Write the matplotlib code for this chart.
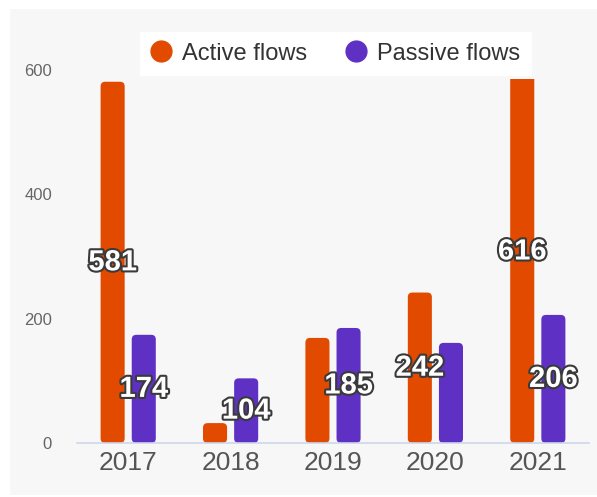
import matplotlib
matplotlib.use("Agg")
import matplotlib.pyplot as plt
import matplotlib.patheffects as pe
from matplotlib.patches import FancyBboxPatch, Rectangle
from matplotlib.lines import Line2D
import numpy as np

years = ['2017', '2018', '2019', '2020', '2021']
active = [581, 32, 169, 242, 616]
passive = [174, 104, 185, 161, 206]
show_active = [True, False, False, True, True]
show_passive = [True, True, True, False, True]

plt.rcParams['font.family'] = ['Liberation Sans', 'DejaVu Sans']

c_active = '#e24a00'
c_passive = '#5e31c4'

fig = plt.figure(figsize=(5.97, 4.97), dpi=100)
fig.patch.set_facecolor('white')
fig.add_artist(Rectangle((10 / 597, 2 / 497), 587 / 597, 486 / 497,
                         transform=fig.transFigure, facecolor='#f7f7f7',
                         edgecolor='none', zorder=-10))

ax = fig.add_axes([77 / 597, 54 / 497, 512 / 597, 411 / 497])
ax.set_facecolor('none')

x = np.arange(len(years))
off, w = 0.152, 0.235
ax.set_xlim(-0.5, 4.5)
ax.set_ylim(0, 661)

# px -> data ratio, used to keep rounded corners circular
sx = 5.0 / 512
sy = 661 / 411

# bars are cut off a bit below the axes top (plot area of the original)
clip = Rectangle((0, 0), 1, 0.885, transform=ax.transAxes, visible=False)
ax.add_patch(clip)

def rounded_bars(xs, vals, color):
    bars = ax.bar(xs, vals, w, color=color)
    for b in bars:
        b.set_visible(False)
        p = FancyBboxPatch((b.get_x(), 0), b.get_width(), b.get_height(),
                           boxstyle='round,pad=0,rounding_size=0.045',
                           mutation_aspect=sy / sx, facecolor=color,
                           edgecolor='none', zorder=2)
        ax.add_patch(p)
        p.set_clip_path(clip)
    return bars

b1 = rounded_bars(x - off, active, c_active)
b2 = rounded_bars(x + off, passive, c_passive)

stroke = [pe.withStroke(linewidth=3, foreground='#3a3a3a')]
for xs, vals, show in [(x - off, active, show_active), (x + off, passive, show_passive)]:
    for xi, v, s in zip(xs, vals, show):
        if s:
            ax.text(xi, v / 2, str(v), ha='center', va='center', fontsize=21,
                    fontweight='bold', color='white', path_effects=stroke, zorder=4)

ax.set_xticks(x)
ax.set_xticklabels(years, fontsize=19, color='#555555')
ax.set_yticks([0, 200, 400, 600])
ax.tick_params(axis='y', length=0, pad=18, labelsize=12, labelcolor='#666666')
ax.tick_params(axis='x', length=0, pad=6)
for s in ['left', 'right', 'top']:
    ax.spines[s].set_visible(False)
ax.spines['bottom'].set_color('#ccd6eb')
ax.spines['bottom'].set_linewidth(1.2)

handles = [Line2D([], [], marker='o', linestyle='none', markersize=15,
                  markerfacecolor=c_active, markeredgecolor=c_active),
           Line2D([], [], marker='o', linestyle='none', markersize=15,
                  markerfacecolor=c_passive, markeredgecolor=c_passive)]
leg = ax.legend(handles, ['Active flows', 'Passive flows'], ncol=2,
                loc='upper center', bbox_to_anchor=(0.504, 1.0), borderaxespad=0,
                fontsize=17, frameon=True, fancybox=False, framealpha=1,
                edgecolor='white', facecolor='white', handlelength=0.9,
                handletextpad=0.45, columnspacing=1.6, borderpad=0.45)
for t in leg.get_texts():
    t.set_color('#333333')
leg.set_zorder(10)

fig.savefig('out.png', dpi=100)
